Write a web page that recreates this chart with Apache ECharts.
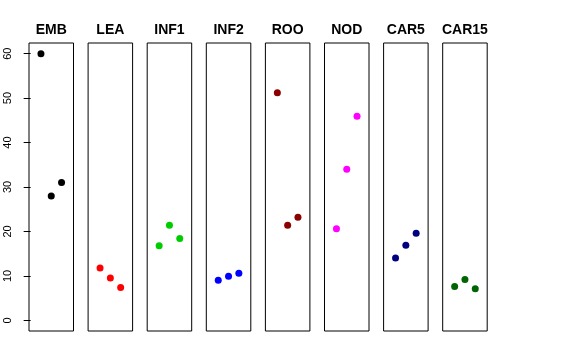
<!DOCTYPE html>
<html><head><meta charset="utf-8">
<script src="https://cdn.jsdelivr.net/npm/echarts@6/dist/echarts.min.js"></script>
<style>html,body{margin:0;padding:0;background:#fff}#c{width:576px;height:360px}</style>
</head><body><div id="c"></div>
<script>
const categories = ['EMB','LEA','INF1','INF2','ROO','NOD','CAR5','CAR15'];
const colors = ['#000000','#FF0000','#00CD00','#0000FF','#8B0000','#FF00FF','#000080','#006400'];
const EMB = [60.0, 28.0, 31.0];
const LEA = [11.8, 9.5, 7.4];
const INF1 = [16.8, 21.4, 18.4];
const INF2 = [9.0, 9.9, 10.6];
const ROO = [51.2, 21.4, 23.2];
const NOD = [20.6, 34.0, 45.9];
const CAR5 = [14.0, 16.9, 19.6];
const CAR15 = [7.6, 9.2, 7.1];
const yTicks = [0, 10, 20, 30, 40, 50, 60];
const values = [EMB, LEA, INF1, INF2, ROO, NOD, CAR5, CAR15];

(function () {
const grids = [], xAxes = [], yAxes = [], series = [], titles = [];
const left0 = 29, step = 59.1, w = 44.5, gTop = 43, gH = 288;
categories.forEach((name, i) => {
  const l = left0 + i * step;
  grids.push({left: l, top: gTop, width: w, height: gH, show: true, borderColor: '#000', borderWidth: 1, backgroundColor: 'transparent'});
  xAxes.push({type: 'value', gridIndex: i, min: -0.16, max: 4.16, show: false});
  const ya = {type: 'value', gridIndex: i, min: -2.4, max: 62.4, splitLine: {show: false}};
  if (i === 0) {
    Object.assign(ya, {
      show: true,
      axisLine: {show: false},
      axisTick: {show: true, inside: false, length: 7, lineStyle: {color: '#000'}, customValues: yTicks},
      axisLabel: {show: true, rotate: 90, margin: 16, fontSize: 11, color: '#000', fontFamily: 'Liberation Sans, Arial, sans-serif', customValues: yTicks}
    });
  } else {
    ya.show = false;
  }
  yAxes.push(ya);
  series.push({
    type: 'scatter', xAxisIndex: i, yAxisIndex: i,
    data: values[i].map((v, k) => [k + 1, v]),
    symbolSize: 7,
    itemStyle: {color: colors[i], opacity: 1},
    emphasis: {disabled: true}
  });
  titles.push({text: name, left: l + w / 2, top: 23, textAlign: 'center', padding: 0,
    textStyle: {fontSize: 14, fontWeight: 'bold', color: '#000', fontFamily: 'Liberation Sans, Arial, sans-serif'}});
});

const chart = echarts.init(document.getElementById('c'), null, {renderer: 'canvas'});
chart.setOption({
  animation: false,
  backgroundColor: '#fff',
  title: titles,
  grid: grids,
  xAxis: xAxes,
  yAxis: yAxes,
  series: series
});
})();
</script></body></html>
